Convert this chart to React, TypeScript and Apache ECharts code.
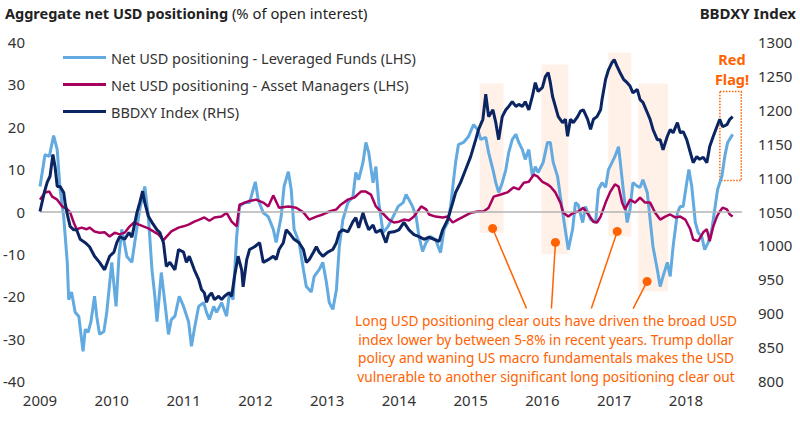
import React, { useEffect, useRef } from "react";
import * as echarts from "echarts";

const FONT = '"Noto Sans", "DejaVu Sans", sans-serif';

// Axis definitions
const xMin = 2009;
const xMax = 2018.78;
const leftMin = -40, leftMax = 40, leftStep = 10;
const rightMin = 800, rightMax = 1300, rightStep = 50;

// Net USD positioning - Leveraged Funds (% of OI), [year, value]
const leveragedFunds: [number, number][] = [
  [2009.00, 5.9], [2009.07, 13.4], [2009.13, 13], [2009.19, 17.9], [2009.24, 14.6], [2009.28, 5.2],
  [2009.33, -1.2], [2009.38, -12], [2009.40, -20.8], [2009.44, -19], [2009.49, -23.8], [2009.54, -24.7],
  [2009.60, -33], [2009.63, -27.8], [2009.67, -28.5], [2009.71, -26], [2009.76, -20], [2009.79, -24.7],
  [2009.83, -29], [2009.89, -28.3], [2009.93, -23.8], [2010.00, -12], [2010.06, -22.4], [2010.10, -10.6],
  [2010.14, -4.2], [2010.21, -10.6], [2010.28, -12], [2010.32, -7.3], [2010.39, 0.5], [2010.46, 5.9],
  [2010.51, -1.2], [2010.56, -13.7], [2010.60, -20], [2010.63, -26], [2010.69, -14.4], [2010.74, -21.5],
  [2010.79, -29], [2010.83, -25.5], [2010.88, -24.7], [2010.94, -20], [2011.00, -22.4], [2011.07, -26],
  [2011.11, -31.8], [2011.15, -27.8], [2011.21, -22.4], [2011.28, -21.5], [2011.32, -23.8], [2011.36, -25.5],
  [2011.42, -22.4], [2011.46, -23.8], [2011.53, -21.5], [2011.60, -24.7], [2011.64, -19], [2011.69, -20.8],
  [2011.74, -5.9], [2011.78, 1.2], [2011.85, 2.1], [2011.92, 2.1], [2011.97, 5.2], [2012.00, 7],
  [2012.04, 2.8], [2012.11, -0.3], [2012.18, -1.2], [2012.25, -4.2], [2012.29, -7.3], [2012.36, -1.2],
  [2012.40, 5.9], [2012.46, 9.4], [2012.50, 5.2], [2012.54, -4.2], [2012.61, -7.3], [2012.67, -13.7],
  [2012.71, -17.7], [2012.78, -19], [2012.82, -15.3], [2012.89, -13.7], [2012.94, -12], [2012.99, -16.7],
  [2013.03, -21.5], [2013.08, -23.1], [2013.13, -18.4], [2013.17, -8.3], [2013.22, -1.9], [2013.29, 2.1],
  [2013.36, 3.5], [2013.40, 9.2], [2013.44, 7.5], [2013.50, 11.6], [2013.54, 16.3], [2013.58, 13.9],
  [2013.64, 6.8], [2013.68, 10.6], [2013.72, 2.1], [2013.78, -5], [2013.85, -3.5], [2013.92, -1.2],
  [2013.99, 1.2], [2014.06, 2.1], [2014.10, 4], [2014.14, 2.8], [2014.19, 1.2], [2014.24, -1.2],
  [2014.28, -5.9], [2014.33, -9.4], [2014.38, -7.3], [2014.44, -5.9], [2014.51, -6.6], [2014.58, -9.7],
  [2014.63, -4.2], [2014.68, -2.6], [2014.72, 1.2], [2014.79, 11.6], [2014.83, 15.8], [2014.90, 16.3],
  [2014.97, 17.7], [2015.04, 20.5], [2015.10, 19.3], [2015.14, 17], [2015.21, 17.5], [2015.25, 13.9],
  [2015.31, 9.9], [2015.35, 6.8], [2015.39, 4.5], [2015.44, 6.8], [2015.49, 9.9], [2015.53, 13.9],
  [2015.58, 17], [2015.63, 18.2], [2015.67, 16.3], [2015.72, 14.6], [2015.76, 12.3], [2015.81, 14.6],
  [2015.86, 8.3], [2015.90, 10.6], [2015.94, 9.2], [2016.01, 11.6], [2016.07, 16.3], [2016.11, 16.3],
  [2016.15, 11.6], [2016.21, 8.3], [2016.25, 3.5], [2016.29, -1.2], [2016.36, -9], [2016.42, -4.2],
  [2016.46, 2.1], [2016.50, 1.5], [2016.56, -2.6], [2016.60, 1.2], [2016.67, -1.9], [2016.74, -2.6],
  [2016.78, 5.2], [2016.83, 6.8], [2016.88, 5.7], [2016.92, 9.9], [2016.97, 11.6], [2017.01, 13],
  [2017.06, 15.3], [2017.08, 12.3], [2017.13, 4.5], [2017.18, -2.6], [2017.22, 0.5], [2017.26, 6.8],
  [2017.32, 6], [2017.36, 5.7], [2017.40, 7.5], [2017.46, 4.5], [2017.50, -1.9], [2017.54, -8.3],
  [2017.60, -13.7], [2017.64, -17.7], [2017.68, -15.3], [2017.74, -12], [2017.78, -15.3], [2017.82, -8.3],
  [2017.88, -0.3], [2017.92, 1.2], [2017.96, 1.2], [2018.01, 6.8], [2018.04, 9.9], [2018.08, 5.9],
  [2018.13, -2.6], [2018.17, -5], [2018.22, -5.9], [2018.26, -9], [2018.31, -7.3], [2018.36, -4.2],
  [2018.40, 0.5], [2018.44, 5.2], [2018.50, 8.3], [2018.54, 13], [2018.58, 16.3], [2018.65, 18.2],
];

// Net USD positioning - Asset Managers (% of OI), [year, value]
const assetManagers: [number, number][] = [
  [2009.00, 2.8], [2009.07, 4.5], [2009.13, 4.7], [2009.17, 3.5], [2009.24, 2.8], [2009.31, 1.2],
  [2009.38, 0.5], [2009.42, -0.2], [2009.47, -2.6], [2009.51, -4.2], [2009.58, -3.8], [2009.65, -4.2],
  [2009.69, -3.8], [2009.76, -4.7], [2009.83, -5], [2009.90, -4.9], [2009.97, -5.9], [2010.04, -5],
  [2010.11, -5.4], [2010.18, -5], [2010.25, -3.5], [2010.31, -2.6], [2010.38, -3.1], [2010.44, -3.5],
  [2010.51, -4], [2010.58, -4.7], [2010.65, -5.4], [2010.72, -6.8], [2010.76, -6], [2010.83, -4.7],
  [2010.93, -3.8], [2011.00, -3.5], [2011.07, -3.1], [2011.15, -2.4], [2011.22, -1.9], [2011.29, -1.4],
  [2011.36, -2.2], [2011.43, -1.4], [2011.53, -1.2], [2011.60, -0.3], [2011.67, -2.4], [2011.74, -3.5],
  [2011.78, 1.6], [2011.90, 2.4], [2012.01, 2.8], [2012.11, 2.1], [2012.18, 1.2], [2012.25, 3.8],
  [2012.33, 0.9], [2012.46, 1.2], [2012.57, 0.9], [2012.67, -0.2], [2012.75, -1.9], [2012.85, -1.2],
  [2012.94, -0.7], [2013.03, 0], [2013.13, 0.5], [2013.19, 1.6], [2013.29, 2.8], [2013.38, 3.3],
  [2013.47, 4.7], [2013.54, 4.7], [2013.61, 4], [2013.68, 1.2], [2013.75, 0], [2013.86, -1.9],
  [2013.93, -2.6], [2014.00, -2.4], [2014.07, -1.9], [2014.14, -2.1], [2014.21, -1.2], [2014.31, 1.2],
  [2014.38, 0.5], [2014.42, -0.7], [2014.51, -1.2], [2014.61, -1.4], [2014.68, -1.2], [2014.75, -2.6],
  [2014.82, -1.9], [2014.90, -1.2], [2015.00, -0.3], [2015.10, 0], [2015.18, 0], [2015.25, 0.9],
  [2015.32, 3.5], [2015.42, 4], [2015.51, 4.5], [2015.60, 5.7], [2015.67, 5.2], [2015.74, 6.8],
  [2015.81, 7], [2015.88, 8.7], [2015.93, 8.3], [2016.00, 7], [2016.07, 6.4], [2016.11, 5.9],
  [2016.18, 4.5], [2016.25, 2.1], [2016.29, -0.3], [2016.36, -1.2], [2016.43, -0.3], [2016.50, 0],
  [2016.57, 0.9], [2016.64, -0.7], [2016.71, -2.4], [2016.76, -2.6], [2016.81, -1.2], [2016.88, 2.1],
  [2016.94, 4.5], [2017.01, 6.4], [2017.06, 5.9], [2017.11, 2.1], [2017.15, 0.5], [2017.22, 2.8],
  [2017.29, 2.1], [2017.36, 3.3], [2017.43, 2.1], [2017.50, 2.1], [2017.57, -0.3], [2017.64, -1.9],
  [2017.71, -1.2], [2017.78, -0.7], [2017.85, -1.4], [2017.92, -1.2], [2017.99, -1.9], [2018.06, -4.2],
  [2018.10, -6.6], [2018.17, -7], [2018.24, -4.9], [2018.29, -4.2], [2018.33, -7], [2018.38, -3.5],
  [2018.43, -1.2], [2018.47, 0], [2018.51, 0.9], [2018.57, 0.5], [2018.61, -0.7], [2018.65, -1.2],
];

// BBDXY Index (RHS), [year, value]
const bbdxy: [number, number][] = [
  [2009.00, 1050], [2009.06, 1078], [2009.10, 1093], [2009.14, 1102], [2009.18, 1134], [2009.21, 1116],
  [2009.24, 1087], [2009.28, 1087], [2009.33, 1078], [2009.35, 1063], [2009.38, 1046], [2009.42, 1028],
  [2009.47, 1023], [2009.51, 1023], [2009.56, 1009], [2009.63, 1004], [2009.69, 998], [2009.76, 984],
  [2009.83, 975], [2009.90, 964], [2009.97, 984], [2010.03, 990], [2010.07, 1004], [2010.11, 1013],
  [2010.18, 1009], [2010.24, 1019], [2010.28, 1012], [2010.35, 1048], [2010.39, 1063], [2010.43, 1080],
  [2010.46, 1063], [2010.51, 1043], [2010.56, 1034], [2010.63, 1023], [2010.67, 1019], [2010.72, 1004],
  [2010.76, 969], [2010.81, 975], [2010.88, 964], [2010.93, 994], [2011.00, 990], [2011.04, 975],
  [2011.08, 984], [2011.15, 964], [2011.21, 950], [2011.25, 935], [2011.29, 930], [2011.32, 916],
  [2011.35, 925], [2011.39, 930], [2011.43, 920], [2011.49, 925], [2011.53, 920], [2011.57, 925],
  [2011.63, 930], [2011.67, 925], [2011.71, 954], [2011.76, 984], [2011.81, 964], [2011.83, 939],
  [2011.88, 979], [2011.92, 994], [2011.99, 998], [2012.06, 1004], [2012.11, 975], [2012.18, 979],
  [2012.25, 984], [2012.29, 979], [2012.33, 994], [2012.39, 1004], [2012.43, 1023], [2012.49, 1016],
  [2012.54, 1009], [2012.61, 1004], [2012.67, 994], [2012.71, 975], [2012.75, 979], [2012.81, 990],
  [2012.85, 998], [2012.89, 990], [2012.94, 984], [2013.01, 990], [2013.08, 994], [2013.13, 1004],
  [2013.17, 1019], [2013.22, 1023], [2013.29, 1020], [2013.36, 1035], [2013.40, 1041], [2013.44, 1026],
  [2013.50, 1048], [2013.54, 1034], [2013.58, 1023], [2013.64, 1030], [2013.68, 1019], [2013.75, 1023],
  [2013.82, 1004], [2013.86, 1019], [2013.93, 1020], [2014.00, 1023], [2014.07, 1034], [2014.14, 1023],
  [2014.21, 1016], [2014.28, 1013], [2014.35, 1009], [2014.42, 1012], [2014.49, 1009], [2014.56, 1006],
  [2014.61, 1023], [2014.68, 1038], [2014.75, 1063], [2014.79, 1078], [2014.86, 1093], [2014.93, 1112],
  [2015.00, 1131], [2015.07, 1156], [2015.11, 1171], [2015.17, 1186], [2015.21, 1223], [2015.25, 1190],
  [2015.31, 1200], [2015.35, 1181], [2015.39, 1156], [2015.44, 1190], [2015.49, 1200], [2015.53, 1205],
  [2015.58, 1212], [2015.63, 1205], [2015.67, 1208], [2015.72, 1205], [2015.76, 1212], [2015.81, 1200],
  [2015.86, 1220], [2015.90, 1240], [2015.94, 1227], [2016.00, 1233], [2016.04, 1249], [2016.08, 1255],
  [2016.11, 1240], [2016.14, 1220], [2016.18, 1205], [2016.22, 1190], [2016.28, 1181], [2016.32, 1186],
  [2016.35, 1161], [2016.39, 1186], [2016.43, 1181], [2016.49, 1190], [2016.53, 1198], [2016.57, 1200],
  [2016.63, 1186], [2016.67, 1171], [2016.71, 1186], [2016.76, 1190], [2016.81, 1200], [2016.83, 1215],
  [2016.88, 1245], [2016.92, 1259], [2016.97, 1270], [2017.00, 1274], [2017.04, 1264], [2017.08, 1255],
  [2017.13, 1245], [2017.18, 1240], [2017.22, 1235], [2017.26, 1225], [2017.32, 1230], [2017.36, 1215],
  [2017.40, 1211], [2017.46, 1196], [2017.50, 1186], [2017.54, 1171], [2017.60, 1156], [2017.64, 1156],
  [2017.68, 1141], [2017.74, 1161], [2017.78, 1171], [2017.82, 1166], [2017.88, 1181], [2017.92, 1166],
  [2017.96, 1168], [2018.01, 1156], [2018.06, 1137], [2018.10, 1122], [2018.15, 1131], [2018.19, 1127],
  [2018.24, 1130], [2018.29, 1122], [2018.33, 1146], [2018.38, 1161], [2018.43, 1175], [2018.47, 1186],
  [2018.51, 1175], [2018.57, 1178], [2018.61, 1186], [2018.65, 1190],
];

// Clear-out windows: [startYear, endYear, top (LHS), bottom (LHS)]
const clearOutWindows: [number, number, number, number][] = [
  [2015.125, 2015.458, 30.2, -5.0],
  [2015.986, 2016.361, 34.7, -10.1],
  [2016.917, 2017.236, 37.5, -5.9],
  [2017.333, 2017.75, 30.2, -18.9],
];
// Red flag window: [startYear, endYear, top, bottom]
const redFlagWindow: [number, number, number, number] = [2018.472, 2018.77, 28.3, 7.3];
// Callout dots [year, LHS] and connector ends [year, LHS]
const calloutDots: [number, number][] = [
  [2015.306, -4.0], [2016.181, -7.3], [2017.042, -4.7], [2017.458, -16.5],
];
const calloutEnds: [number, number][] = [
  [2015.778, -22.9], [2016.125, -22.9], [2016.681, -22.9], [2017.264, -22.9],
];

const titleBold = "Aggregate net USD positioning";
const titleNormal = "(% of open interest)";
const rightTitle = "BBDXY Index";
const seriesNames = [
  "Net USD positioning - Leveraged Funds (LHS)",
  "Net USD positioning - Asset Managers (LHS)",
  "BBDXY Index (RHS)",
];
const calloutText = [
  "Long USD positioning clear outs have driven the broad USD",
  "index lower by between 5-8% in recent years. Trump dollar",
  "policy and waning US macro fundamentals makes the USD",
  "vulnerable to another significant long positioning clear out",
];

const LIGHT_BLUE = "#62aadf";
const MAGENTA = "#a8005f";
const NAVY = "#0b2563";
const ORANGE = "#ff6200";
const TEXT = "#333333";

export default function App() {
  const ref = useRef<HTMLDivElement>(null);

  useEffect(() => {
    document.body.style.margin = "0";
    if (!ref.current) return;
    const chart = echarts.init(ref.current, null, { renderer: "svg" });

    const option: any = {
      animation: false,
      textStyle: { fontFamily: FONT },
      grid: { left: 38, right: 58, top: 42, bottom: 41 },
      legend: {
        orient: "vertical",
        left: 58,
        top: 44,
        itemWidth: 43,
        itemHeight: 3,
        itemGap: 10,
        icon: "rect",
        textStyle: { fontSize: 14.5, color: TEXT, lineHeight: 17, fontFamily: FONT },
        data: seriesNames,
      },
      xAxis: {
        type: "value",
        min: xMin,
        max: xMax,
        interval: 1,
        axisLine: { show: false },
        axisTick: { show: false },
        splitLine: { show: false },
        axisLabel: {
          margin: 11,
          fontSize: 15,
          color: TEXT,
          fontFamily: FONT,
          showMaxLabel: false,
          formatter: (v: number) => (Number.isInteger(v) ? String(v) : ""),
        },
      },
      yAxis: [
        {
          type: "value",
          min: leftMin,
          max: leftMax,
          interval: leftStep,
          position: "left",
          axisLine: { show: false },
          axisTick: { show: false },
          splitLine: { show: false },
          axisLabel: { margin: 15, fontSize: 15, color: TEXT, fontFamily: FONT },
        },
        {
          type: "value",
          min: rightMin,
          max: rightMax,
          interval: rightStep,
          position: "right",
          axisLine: { show: false },
          axisTick: { show: false },
          splitLine: { show: false },
          axisLabel: {
            margin: 16,
            fontSize: 15,
            color: TEXT,
            fontFamily: FONT,
            formatter: (v: number) => String(v),
          },
        },
      ],
      series: [
        {
          name: seriesNames[0],
          type: "line",
          yAxisIndex: 0,
          data: leveragedFunds,
          showSymbol: false,
          symbol: "none",
          lineStyle: { color: LIGHT_BLUE, width: 3 },
          itemStyle: { color: LIGHT_BLUE },
          z: 3,
          markArea: {
            silent: true,
            data: [
              ...clearOutWindows.map((w) => [
                { coord: [w[0], w[2]], itemStyle: { color: "rgba(255,98,0,0.09)", borderWidth: 0 } },
                { coord: [w[1], w[3]] },
              ]),
              [
                {
                  coord: [redFlagWindow[0], redFlagWindow[2]],
                  itemStyle: {
                    color: "rgba(0,0,0,0)",
                    borderColor: ORANGE,
                    borderWidth: 1.5,
                    borderType: "dotted",
                  },
                },
                { coord: [redFlagWindow[1], redFlagWindow[3]] },
              ],
            ],
          },
          markLine: {
            silent: true,
            symbol: ["none", "none"],
            label: { show: false },
            lineStyle: { color: ORANGE, width: 1.5, type: "solid" },
            data: calloutDots.map((d, i) => [
              { coord: d },
              { coord: calloutEnds[i] },
            ]),
          },
          markPoint: {
            silent: true,
            symbol: "circle",
            symbolSize: 9,
            itemStyle: { color: ORANGE },
            label: { show: false },
            data: calloutDots.map((d) => ({ coord: d })),
          },
        },
        {
          name: seriesNames[1],
          type: "line",
          yAxisIndex: 0,
          data: assetManagers,
          showSymbol: false,
          symbol: "none",
          lineStyle: { color: MAGENTA, width: 2.5 },
          itemStyle: { color: MAGENTA },
          z: 4,
          markLine: {
            silent: true,
            symbol: ["none", "none"],
            label: { show: false },
            lineStyle: { color: "#b3b3b3", width: 1.5, type: "solid" },
            data: [{ yAxis: 0 }],
          },
        },
        {
          name: seriesNames[2],
          type: "line",
          yAxisIndex: 1,
          data: bbdxy,
          showSymbol: false,
          symbol: "none",
          lineStyle: { color: NAVY, width: 3 },
          itemStyle: { color: NAVY },
          z: 5,
        },
      ],
      graphic: [
        {
          type: "text",
          x: 5,
          y: 13,
          style: {
            text: `{b|${titleBold}} {n|${titleNormal}}`,
            fill: "#222",
            fontSize: 14.5,
            fontFamily: FONT,
            align: "left",
            verticalAlign: "middle",
            rich: {
              b: { fontWeight: "bold", fontSize: 14.5, fill: "#222", fontFamily: FONT },
              n: { fontWeight: "normal", fontSize: 14.8, fill: "#222", fontFamily: FONT },
            },
          },
        },
        {
          type: "text",
          x: 796,
          y: 13,
          style: {
            text: rightTitle,
            fill: "#222",
            fontSize: 15,
            fontWeight: "bold",
            fontFamily: FONT,
            align: "right",
            verticalAlign: "middle",
          },
        },
        {
          type: "text",
          x: 732,
          y: 59,
          style: {
            text: "Red",
            fill: ORANGE,
            fontSize: 14.5,
            fontWeight: "bold",
            fontFamily: FONT,
            align: "center",
            verticalAlign: "middle",
          },
        },
        {
          type: "text",
          x: 732,
          y: 79,
          style: {
            text: "Flag!",
            fill: ORANGE,
            fontSize: 14.5,
            fontWeight: "bold",
            fontFamily: FONT,
            align: "center",
            verticalAlign: "middle",
          },
        },
        {
          type: "text",
          x: 546,
          y: 311,
          style: {
            text: calloutText.join("\n"),
            fill: ORANGE,
            fontSize: 13.7,
            lineHeight: 18.7,
            fontFamily: FONT,
            align: "center",
            verticalAlign: "top",
          },
        },
      ],
    };

    chart.setOption(option);
    return () => chart.dispose();
  }, []);

  return <div ref={ref} style={{ width: 800, height: 422 }} />;
}
